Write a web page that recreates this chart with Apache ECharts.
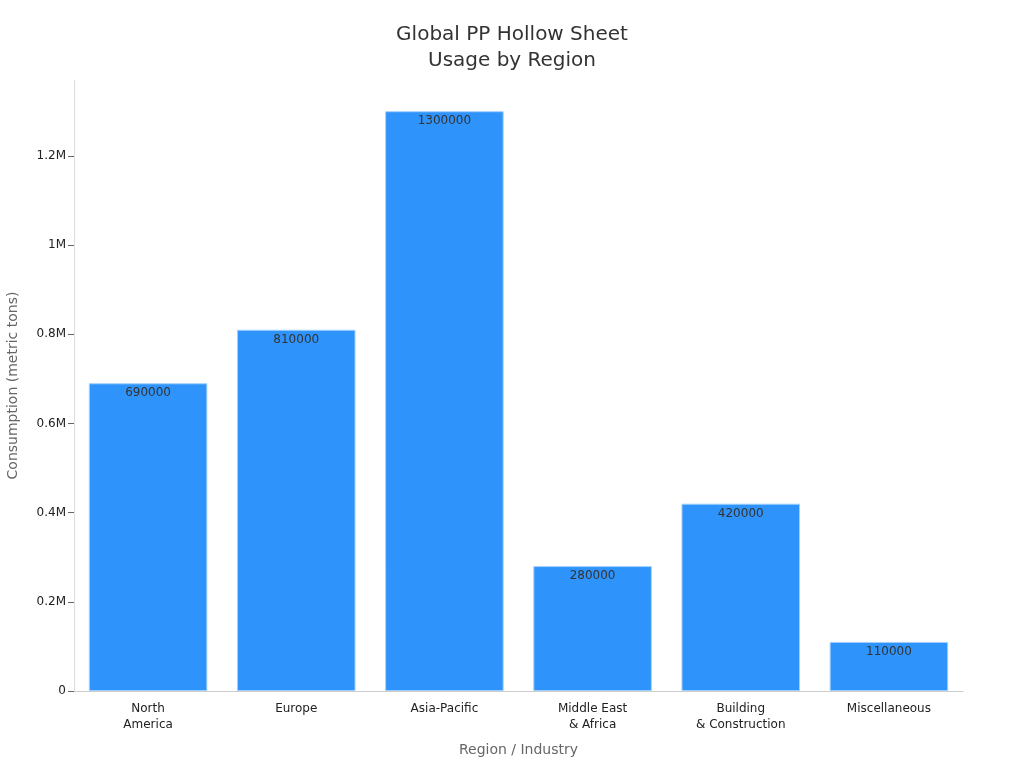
<!DOCTYPE html>
<html>
<head>
<meta charset="utf-8">
<script src="https://cdn.jsdelivr.net/npm/echarts@6/dist/echarts.min.js"></script>
<style>
  html, body { margin: 0; padding: 0; background: #fff; }
  #chart { width: 1024px; height: 768px; }
</style>
</head>
<body>
<div id="chart"></div>
<script>
const regions = ['North\nAmerica', 'Europe', 'Asia-Pacific', 'Middle East\n& Africa', 'Building\n& Construction', 'Miscellaneous'];
const consumption = [690000, 810000, 1300000, 280000, 420000, 110000];
const yTickValues = [0, 200000, 400000, 600000, 800000, 1000000, 1200000];
const yMax = 1370000;

const chart = echarts.init(document.getElementById('chart'));
chart.setOption({
  textStyle: { fontFamily: 'DejaVu Sans' },
  title: {
    text: 'Global PP Hollow Sheet\nUsage by Region',
    left: 'center',
    top: 17,
    textStyle: { fontSize: 20, fontWeight: 'normal', color: '#333', lineHeight: 26, fontFamily: 'DejaVu Sans' }
  },
  grid: { left: 74, right: 61, top: 80, bottom: 77, outerBoundsMode: 'none', containLabel: false },
  xAxis: {
    type: 'category',
    data: regions,
    name: 'Region / Industry',
    nameLocation: 'middle',
    nameGap: 52,
    nameTextStyle: { fontSize: 14, color: '#666' },
    axisLine: { lineStyle: { color: '#ccc' } },
    axisTick: { alignWithLabel: true, lineStyle: { color: '#666' } },
    axisLabel: { color: '#222', fontSize: 12, lineHeight: 16, margin: 10 }
  },
  yAxis: {
    type: 'value',
    min: 0,
    max: yMax,
    interval: 200000,
    name: 'Consumption (metric tons)',
    nameLocation: 'middle',
    nameGap: 54,
    nameTextStyle: { fontSize: 14, color: '#666' },
    axisLine: { show: true, lineStyle: { color: '#ddd' } },
    axisTick: { show: true, length: 6, customValues: yTickValues, lineStyle: { color: '#666' } },
    splitLine: { show: false },
    axisLabel: {
      color: '#222',
      fontSize: 12,
      margin: 8,
      customValues: yTickValues,
      formatter: v => v === 0 ? '0' : (v / 1e6) + 'M'
    }
  },
  series: [{
    type: 'bar',
    data: consumption,
    barCategoryGap: '20%',
    itemStyle: { color: '#2E93FA', borderColor: '#9fd0ff', borderWidth: 1 },
    label: {
      show: true,
      position: 'insideTop',
      distance: 4,
      color: '#333',
      fontSize: 12
    }
  }]
});
</script>
</body>
</html>
